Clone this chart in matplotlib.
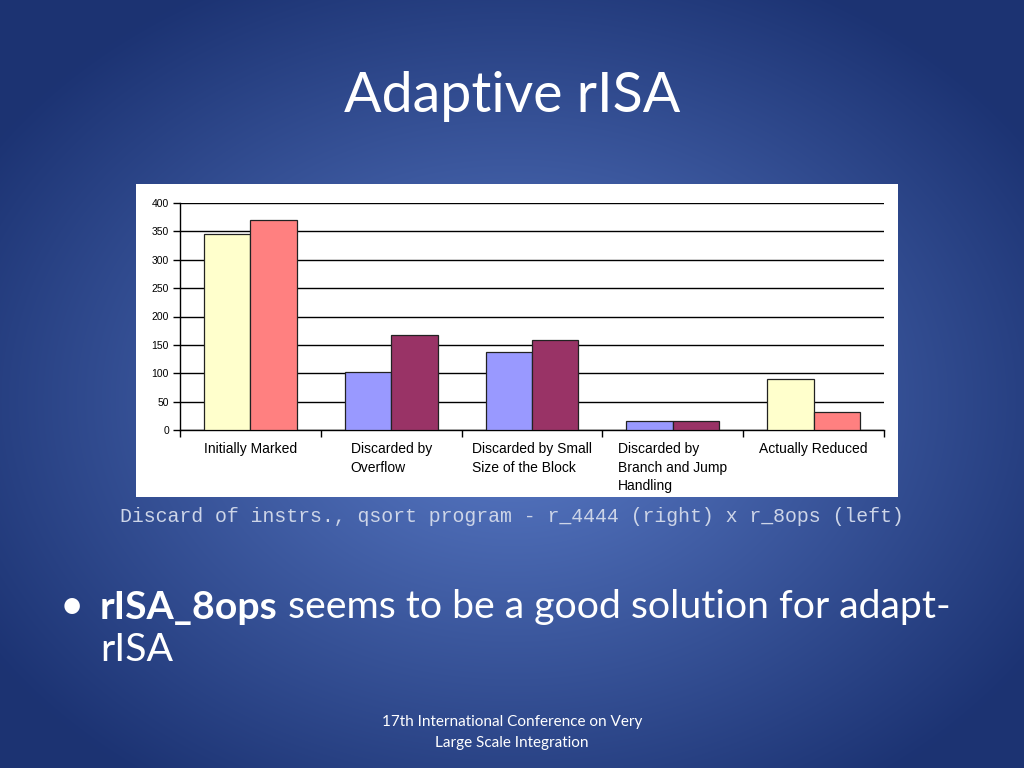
import numpy as np
import matplotlib.pyplot as plt
from matplotlib.patches import Rectangle

categories = ["Initially Marked", "Discarded by\nOverflow", "Discarded by Small\nSize of the Block",
              "Discarded by\nBranch and Jump\nHandling", "Actually Reduced"]
r_8ops = [345, 102, 138, 15, 89]      # left bars
r_4444 = [370, 167, 158, 15, 32]      # right bars
left_colors = ["#FFFFCC", "#9999FF", "#9999FF", "#9999FF", "#FFFFCC"]
right_colors = ["#FF8080", "#993366", "#993366", "#993366", "#FF8080"]
yticks = [0, 50, 100, 150, 200, 250, 300, 350, 400]

W, H = 1024, 768
fig = plt.figure(figsize=(W / 100, H / 100), dpi=100)

# slide background: radial blue gradient
bg = fig.add_axes([0, 0, 1, 1], zorder=-10)
yy, xx = np.mgrid[0:H, 0:W]
r = np.sqrt(((xx - 512) / 620.0) ** 2 + ((yy - 400) / 470.0) ** 2)
r = np.clip(r, 0, 1)
c_in = np.array([0.36, 0.49, 0.79])
c_out = np.array([0.11, 0.20, 0.45])
img = c_in[None, None, :] * (1 - r[..., None]) + c_out[None, None, :] * r[..., None]
bg.imshow(img, aspect="auto", extent=[0, 1, 0, 1], origin="upper")
bg.axis("off")

# white chart box
fig.patches.append(Rectangle((136 / W, 1 - 497 / H), 762 / W, 313 / H,
                             transform=fig.transFigure, facecolor="white",
                             edgecolor="none", zorder=0))

ax = fig.add_axes([180 / W, 1 - 430 / H, 704 / W, 227 / H], zorder=2)
ax.set_facecolor("none")
x = np.arange(len(categories))
w = 0.33
ax.bar(x - w / 2, r_8ops, w, color=left_colors, edgecolor="#222222", linewidth=0.9, zorder=3)
ax.bar(x + w / 2, r_4444, w, color=right_colors, edgecolor="#222222", linewidth=0.9, zorder=3)

ax.set_xlim(-0.5, len(categories) - 0.5)
ax.set_ylim(0, 400)
ax.set_yticks(yticks)
ax.yaxis.grid(True, color="black", linewidth=1.0, zorder=1)
ax.set_axisbelow(True)
for s in ["top", "right"]:
    ax.spines[s].set_visible(False)
ax.spines["left"].set_linewidth(1.0)
ax.spines["bottom"].set_linewidth(1.0)

ax.set_xticks(np.arange(-0.5, len(categories), 1.0))
ax.set_xticklabels([])
ax.set_xticks(x, minor=True)
ax.set_xticklabels(categories, minor=True, fontsize=10, family="Liberation Sans")
ax.tick_params(axis="x", which="major", direction="out", length=5, width=1)
ax.tick_params(axis="x", which="minor", length=0, pad=9)
ax.tick_params(axis="y", direction="out", length=5, width=1, labelsize=7.5, pad=3)
for lab in ax.get_yticklabels():
    lab.set_family("Liberation Sans")
for lab in ax.get_xticklabels(minor=True):
    lab.set_multialignment("left")
    lab.set_verticalalignment("top")
    lab.set_linespacing(1.4)

# slide texts
fig.text(0.5, 1 - 97 / H, "Adaptive rISA", ha="center", va="center",
         fontsize=40, color="white", family="Lato")
fig.text(0.5, 1 - 516 / H, "Discard of instrs., qsort program - r_4444 (right) x r_8ops (left)",
         ha="center", va="center", fontsize=14.3, color="#CDD5E8", family="Liberation Mono")

fig.text(60 / W, 1 - 619 / H, "\u2022", ha="left", va="baseline", fontsize=30,
         color="white", family="Lato")
t1 = fig.text(100 / W, 1 - 619 / H, "rISA_8ops", ha="left", va="baseline", fontsize=28.3,
              color="white", family="Lato", weight="bold")
bg.annotate(" seems to be a good solution for adapt-", xy=(1, 0), xycoords=t1,
            ha="left", va="bottom", fontsize=28.3, color="white", family="Lato",
            annotation_clip=False)
fig.text(100 / W, 1 - 661 / H, "rISA", ha="left", va="baseline", fontsize=28.3,
         color="white", family="Lato")

fig.text(0.5, 1 - 722 / H, "17th International Conference on Very", ha="center", va="center",
         fontsize=11, color="white", family="Lato")
fig.text(0.5, 1 - 743 / H, "Large Scale Integration", ha="center", va="center",
         fontsize=11, color="white", family="Lato")

fig.savefig("out.png", dpi=100)
